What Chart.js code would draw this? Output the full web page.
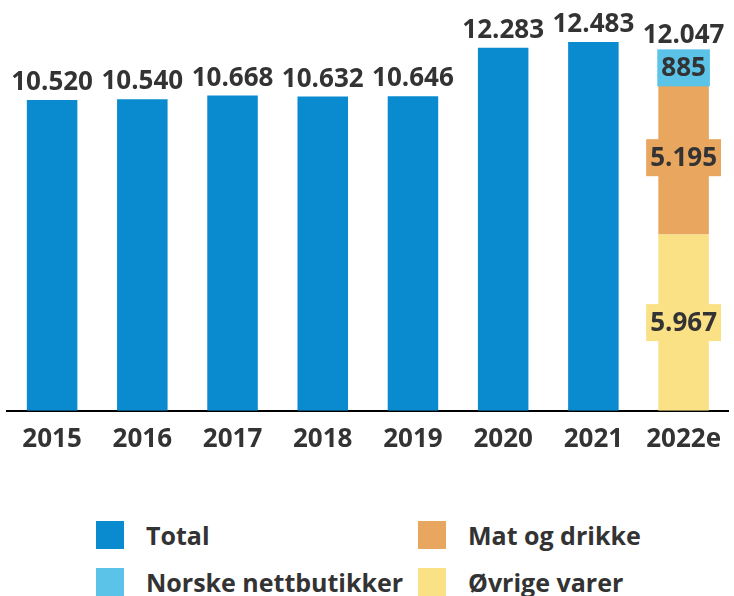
<!DOCTYPE html>
<html>
<head>
<meta charset="utf-8">
<script src="https://cdn.jsdelivr.net/npm/chart.js@4.4.1/dist/chart.umd.min.js"></script>
<style>
  html, body { margin: 0; padding: 0; background: #fff; }
  #wrap { position: relative; width: 734px; height: 596px; overflow: hidden; font-family: "Open Sans", sans-serif; }
  #chart { position: absolute; left: 0; top: 0; }
  .legend { position: absolute; display: flex; align-items: center; font-weight: 700; font-size: 25px; color: #333; white-space: nowrap; }
  .legend span.box { display: inline-block; width: 28px; height: 28px; margin-right: 22px; }
</style>
</head>
<body>
<div id="wrap">
  <canvas id="chart" width="734" height="470"></canvas>
  <div id="legend"></div>
</div>
<script>
const years = ['2015', '2016', '2017', '2018', '2019', '2020', '2021', '2022e'];
const totalValues = [10520, 10540, 10668, 10632, 10646, 12283, 12483, null];
const ovrigeValues = [null, null, null, null, null, null, null, 5967];
const matValues = [null, null, null, null, null, null, null, 5195];
const norskeValues = [null, null, null, null, null, null, null, 885];

const colors = {
  total: '#0a8bd0',
  norske: '#5bc2e8',
  mat: '#e8a65e',
  ovrige: '#fbe186'
};

function fmt(v) {
  return String(v).replace(/\B(?=(\d{3})+(?!\d))/g, '.');
}

const labelFont = '700 26px "Open Sans", sans-serif';
const textColor = '#333333';

const barLabels = {
  id: 'barLabels',
  afterDatasetsDraw(chart) {
    const ctx = chart.ctx;
    ctx.save();
    ctx.font = labelFont;
    ctx.textAlign = 'center';
    const stackTops = {};
    const stackSums = {};
    chart.data.datasets.forEach((ds, di) => {
      const meta = chart.getDatasetMeta(di);
      meta.data.forEach((bar, i) => {
        const v = ds.data[i];
        if (v == null) return;
        if (ds.stackLabel) {
          const mid = (bar.y + bar.base) / 2;
          const text = fmt(v);
          const w = ctx.measureText(text).width + 8;
          const h = 37;
          ctx.fillStyle = ds.backgroundColor;
          ctx.fillRect(bar.x - w / 2, mid - h / 2, w, h);
          ctx.fillStyle = textColor;
          ctx.textBaseline = 'middle';
          ctx.fillText(text, bar.x, mid + 1);
          const boxTop = Math.min(bar.y, mid - h / 2);
          stackTops[i] = stackTops[i] == null ? boxTop : Math.min(stackTops[i], boxTop);
          stackSums[i] = (stackSums[i] || 0) + v;
        } else {
          ctx.fillStyle = textColor;
          ctx.textBaseline = 'alphabetic';
          ctx.fillText(fmt(v), bar.x, bar.y - 10);
        }
      });
    });
    Object.keys(stackSums).forEach(i => {
      const x = chart.getDatasetMeta(1).data[i].x;
      ctx.fillStyle = textColor;
      ctx.textBaseline = 'alphabetic';
      ctx.fillText(fmt(stackSums[i]), x, stackTops[i] - 6);
    });
    ctx.restore();
  }
};

new Chart(document.getElementById('chart'), {
  type: 'bar',
  data: {
    labels: years,
    datasets: [
      { label: 'Total', data: totalValues, backgroundColor: colors.total },
      { label: 'Øvrige varer', data: ovrigeValues, backgroundColor: colors.ovrige, stackLabel: true },
      { label: 'Mat og drikke', data: matValues, backgroundColor: colors.mat, stackLabel: true },
      { label: 'Norske nettbutikker', data: norskeValues, backgroundColor: colors.norske, stackLabel: true }
    ]
  },
  options: {
    responsive: false,
    animation: false,
    categoryPercentage: 1,
    barPercentage: 0.56,
    layout: { padding: { left: 7, right: 0, top: 0, bottom: 2 } },
    plugins: {
      legend: { display: false },
      tooltip: { enabled: false }
    },
    scales: {
      x: {
        stacked: true,
        grid: { display: false, drawTicks: false },
        border: { color: '#000', width: 2 },
        ticks: { color: textColor, font: { family: '"Open Sans", sans-serif', size: 26, weight: '700' }, padding: 13 }
      },
      y: {
        stacked: true,
        display: false,
        min: 0,
        max: 13900
      }
    }
  },
  plugins: [barLabels]
});

const legendItems = [
  { label: 'Total', color: colors.total, x: 96, y: 521 },
  { label: 'Mat og drikke', color: colors.mat, x: 418, y: 521 },
  { label: 'Norske nettbutikker', color: colors.norske, x: 96, y: 568 },
  { label: 'Øvrige varer', color: colors.ovrige, x: 418, y: 568 }
];
const legend = document.getElementById('legend');
legendItems.forEach(it => {
  const d = document.createElement('div');
  d.className = 'legend';
  d.style.left = it.x + 'px';
  d.style.top = it.y + 'px';
  d.style.height = '28px';
  d.innerHTML = '<span class="box" style="background:' + it.color + '"></span>' + it.label;
  legend.appendChild(d);
});
</script>
</body>
</html>
